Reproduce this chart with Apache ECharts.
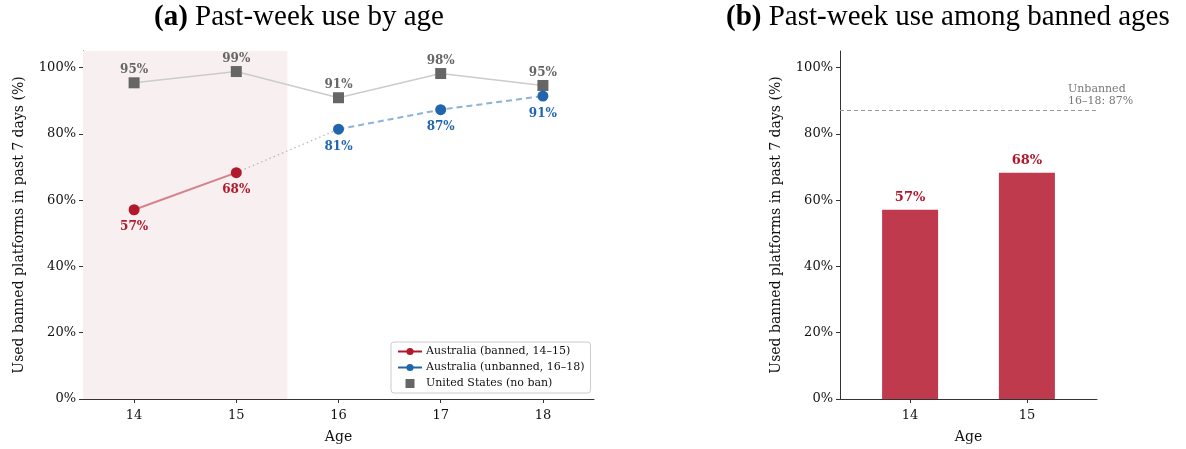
<!DOCTYPE html>
<html>
<head>
<meta charset="utf-8">
<script src="https://cdn.jsdelivr.net/npm/echarts@6/dist/echarts.min.js"></script>
<style>
html, body { margin: 0; padding: 0; background: #fff; }
#chart { width: 1186px; height: 449px; }
</style>
</head>
<body>
<div id="chart"></div>
<script>
var ages = [14, 15, 16, 17, 18];
var usValues = [95.4, 98.8, 90.9, 98.2, 94.6];
var bannedAges = [14, 15];
var bannedValues = [57.1, 68.3];
var unbannedAges = [16, 17, 18];
var unbannedValues = [81.4, 87.3, 91.4];
var unbannedMean = 87.0;
var yTicks = [0, 20, 40, 60, 80, 100];

var serif = 'DejaVu Serif';
var axisColor = '#333';

function pairs(xs, ys) {
	return xs.map(function(x, i) { return [x, ys[i]]; });
}

var pctLabel = function(p) { return Math.round(p.value[1]) + '%'; };

function yAxisFor(gridIndex) {
	return {
		type: 'value', gridIndex: gridIndex, min: 0, max: 105,
		name: 'Used banned platforms in past 7 days (%)',
		nameLocation: 'middle', nameGap: 57,
		nameTextStyle: { fontFamily: serif, fontSize: 14, color: '#111' },
		axisLine: { show: true, onZero: false, lineStyle: { color: axisColor, width: 1 } },
		axisTick: { show: true, length: 4, customValues: yTicks, lineStyle: { color: axisColor } },
		axisLabel: { customValues: yTicks, formatter: '{value}%', fontFamily: serif, fontSize: 13, color: '#111', margin: 7 },
		splitLine: { show: false }
	};
}

function xAxisFor(gridIndex, min, max, ticks, fmt) {
	return {
		type: 'value', gridIndex: gridIndex, min: min, max: max,
		name: 'Age', nameLocation: 'middle', nameGap: 31,
		nameTextStyle: { fontFamily: serif, fontSize: 14, color: '#111' },
		axisLine: { onZero: false, lineStyle: { color: axisColor } },
		axisTick: { show: true, length: 4, customValues: ticks, lineStyle: { color: axisColor } },
		axisLabel: { customValues: ticks, formatter: fmt, fontFamily: serif, fontSize: 13, color: '#111', margin: 10 },
		splitLine: { show: false }
	};
}

var titleStyle = {
	rich: { b: { fontFamily: 'Liberation Serif', fontWeight: 'bold', fontSize: 29, color: '#000' } },
	fontFamily: 'Liberation Serif', fontSize: 29, fontWeight: 'normal', color: '#000'
};

var myChart = echarts.init(document.getElementById('chart'));
var option = {
	animation: false,
	backgroundColor: '#fff',
	title: [
		{ text: '{b|(a)} Past-week use by age', left: 154, top: 3, padding: 0, textStyle: titleStyle },
		{ text: '{b|(b)} Past-week use among banned ages', left: 726, top: 3, padding: 0, textStyle: titleStyle }
	],
	grid: [
		{ left: 83, right: 592, top: 51, bottom: 50 },
		{ left: 840, right: 89, top: 51, bottom: 50 }
	],
	legend: {
		orient: 'vertical',
		left: 391, top: 342,
		itemWidth: 24, itemHeight: 9, itemGap: 5,
		padding: [4, 6, 4, 6],
		borderColor: '#ccc', borderWidth: 1, borderRadius: 3,
		backgroundColor: 'rgba(255,255,255,0.85)',
		textStyle: { fontFamily: serif, fontSize: 11, color: '#111', padding: [0, 0, 0, -1] },
		data: [
			{ name: 'Australia (banned, 14–15)', lineStyle: { opacity: 1, width: 2 } },
			{ name: 'Australia (unbanned, 16–18)', lineStyle: { opacity: 1, type: 'solid', width: 2 } },
			{ name: 'United States (no ban)', icon: 'path://M0 0H10V10H0Z' }
		]
	},
	xAxis: [
		xAxisFor(0, 13.5, 18.5, ages, '{value}'),
		xAxisFor(1, -0.6, 1.6, [0, 1], function(v) { return bannedAges[Math.round(v)]; })
	],
	yAxis: [yAxisFor(0), yAxisFor(1)],
	series: [
		{
			name: 'United States (no ban)', type: 'line', xAxisIndex: 0, yAxisIndex: 0,
			data: pairs(ages, usValues),
			symbol: 'rect', symbolSize: 11, z: 3,
			itemStyle: { color: '#666' },
			lineStyle: { color: '#ccc', width: 1.5 },
			label: { show: true, position: 'top', distance: 1, formatter: pctLabel,
				fontFamily: serif, fontWeight: 'bold', fontSize: 12, color: '#666' },
			markArea: {
				silent: true,
				itemStyle: { color: '#f7eff0' },
				data: [[{ xAxis: 13.5 }, { xAxis: 15.5 }]]
			}
		},
		{
			name: 'connector', type: 'line', xAxisIndex: 0, yAxisIndex: 0,
			data: [[bannedAges[1], bannedValues[1]], [unbannedAges[0], unbannedValues[0]]],
			symbol: 'none', silent: true, z: 2,
			lineStyle: { color: '#bbb', width: 1.3, type: [1.5, 3] }
		},
		{
			name: 'Australia (banned, 14–15)', type: 'line', xAxisIndex: 0, yAxisIndex: 0,
			data: pairs(bannedAges, bannedValues),
			symbol: 'circle', symbolSize: 11, z: 4,
			itemStyle: { color: '#b2182b' },
			lineStyle: { color: '#b2182b', opacity: 0.5, width: 2 },
			label: { show: true, position: 'bottom', distance: 6, formatter: pctLabel,
				fontFamily: serif, fontWeight: 'bold', fontSize: 12, color: '#b2182b' }
		},
		{
			name: 'Australia (unbanned, 16–18)', type: 'line', xAxisIndex: 0, yAxisIndex: 0,
			data: pairs(unbannedAges, unbannedValues),
			symbol: 'circle', symbolSize: 11, z: 4,
			itemStyle: { color: '#2166ac' },
			lineStyle: { color: '#2166ac', opacity: 0.5, width: 2, type: [6, 4] },
			label: { show: true, position: 'bottom', distance: 6, formatter: pctLabel,
				fontFamily: serif, fontWeight: 'bold', fontSize: 12, color: '#2166ac' }
		},
		{
			name: 'bars', type: 'bar', xAxisIndex: 1, yAxisIndex: 1,
			data: [[0, bannedValues[0]], [1, bannedValues[1]]],
			barWidth: 56,
			itemStyle: { color: '#bf3a4c' },
			label: { show: true, position: 'top', distance: 6, formatter: pctLabel,
				fontFamily: serif, fontWeight: 'bold', fontSize: 13, color: '#b2182b' },
			markLine: {
				silent: true, symbol: 'none',
				lineStyle: { color: '#999', type: [4, 3], width: 1 },
				label: { show: false },
				data: [{ yAxis: unbannedMean }]
			}
		}
	],
	graphic: [
		{
			type: 'text', left: 1068, top: 83,
			style: { text: 'Unbanned\n16–18: ' + Math.round(unbannedMean) + '%', fontFamily: serif, fontSize: 11,
				fill: '#777', lineHeight: 12 }
		}
	]
};
myChart.setOption(option);
</script>
</body>
</html>
